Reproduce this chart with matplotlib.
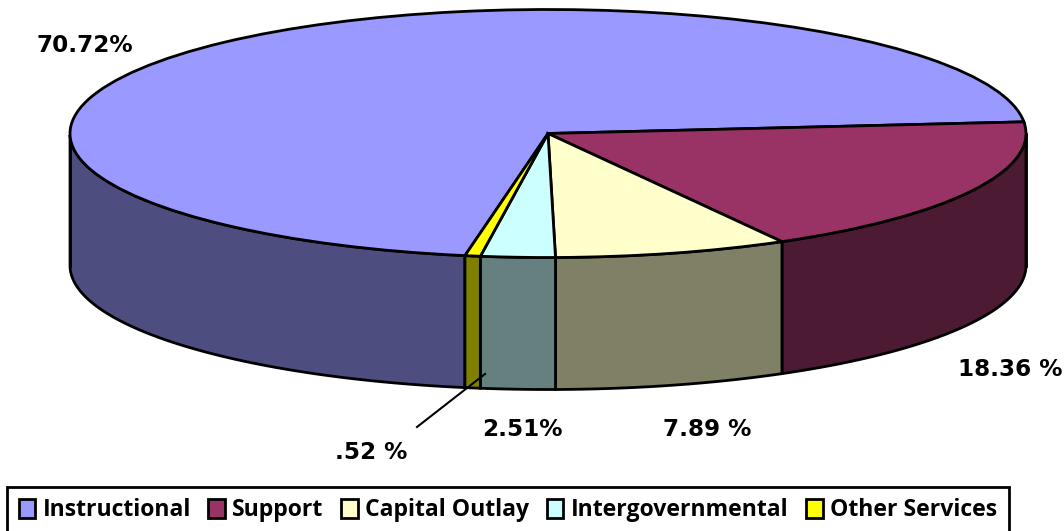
import numpy as np
import matplotlib
matplotlib.use('Agg')
import matplotlib.pyplot as plt
from matplotlib.patches import Patch

categories = ['Instructional', 'Support', 'Capital Outlay', 'Intergovernmental', 'Other Services']
values = [70.72, 18.36, 7.89, 2.51, 0.52]
value_labels = ['70.72%', '18.36 %', '7.89 %', '2.51%', '.52 %']
top_colors = ['#9999FF', '#993366', '#FFFFCC', '#CCFFFF', '#FFFF00']
side_colors = ['#4D4D80', '#4D1A33', '#808066', '#668080', '#808000']

W, H = 1064, 531
CX, CY = 548, 133.5
RX, RY = 478, 124
DEPTH = 132 / RY
START = 5.4 + values[0] * 3.6


def px(x, y):
    return (x - CX) / RX, (CY - y) / RY


plt.rcParams['font.family'] = ['DejaVu Sans']
fig = plt.figure(figsize=(W / 100, H / 100), dpi=100)
ax = fig.add_axes([0, 0, 1, 1])

# side wall first, then the pie on top
angle = START
for val, col in zip(values, side_colors):
    a0, a1 = angle - val * 3.6, angle
    angle = a0
    th = np.linspace(a0, a1, 200) % 360
    th = np.sort(th[th >= 180])
    if len(th) < 2:
        continue
    xs = np.cos(np.radians(th))
    ys = np.sin(np.radians(th))
    ax.fill(np.r_[xs, xs[::-1]], np.r_[ys, ys[::-1] - DEPTH], facecolor=col,
            edgecolor='black', lw=2, zorder=1)

# left and right edges of the wall
ax.plot([-1, -1], [0, -DEPTH], color='black', lw=2, zorder=2)
ax.plot([1, 1], [0, -DEPTH], color='black', lw=2, zorder=2)

ax.pie(values, colors=top_colors, startangle=START, counterclock=False,
       wedgeprops={'edgecolor': 'black', 'linewidth': 2, 'zorder': 3})

ax.set_aspect('auto')
ax.set_xlim(px(0, 0)[0], px(W, 0)[0])
ax.set_ylim(px(0, H)[1], px(0, 0)[1])
ax.axis('off')

# leader line for the smallest slice
x0, y0 = px(417, 427)
x1, y1 = px(485, 374)
ax.plot([x0, x1], [y0, y1], color='black', lw=1.5, zorder=5)

label_pos = [(85, 45), (1010, 369), (707, 429), (522, 429), (371, 452)]
for lab, (x, y) in zip(value_labels, label_pos):
    tx, ty = px(x, y)
    ax.text(tx, ty, lab, ha='center', va='center', fontsize=16.7, fontweight='bold',
            color='black', zorder=6, clip_on=False)

handles = [Patch(facecolor=c, edgecolor='black', linewidth=2) for c in top_colors]
leg = fig.legend(handles, categories, ncol=5, loc='lower left',
                 bbox_to_anchor=(7 / W, -3 / H), frameon=True, fancybox=False,
                 edgecolor='black', framealpha=1,
                 prop={'family': 'Open Sans', 'weight': 'bold', 'size': 16.6},
                 handlelength=0.72, handleheight=0.85, handletextpad=0.32,
                 columnspacing=0.76, borderpad=0.5, borderaxespad=0)
leg.get_frame().set_linewidth(2)

fig.savefig('out.png', dpi=100)
